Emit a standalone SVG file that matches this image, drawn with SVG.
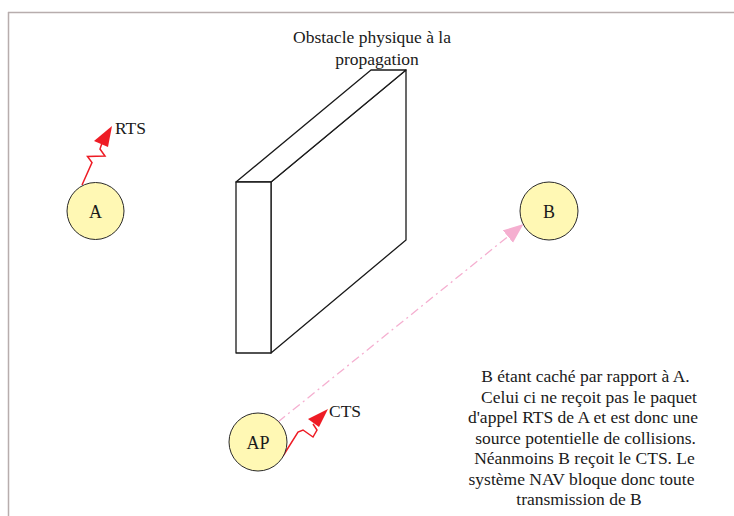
<svg xmlns="http://www.w3.org/2000/svg" width="734" height="516" viewBox="0 0 734 516">
<style>
text{font-family:"Liberation Serif","Times New Roman",serif;fill:#1a1a1a}
.lbl{font-size:17.5px}
.node circle{fill:#fff8b4;stroke:#2a2a2a;stroke-width:1}
.node text{font-size:18px;text-anchor:middle}
.obs{fill:#fff;stroke:#1a1a1a;stroke-width:1.3;stroke-linejoin:round}
.zig{fill:none;stroke:#ee1c25;stroke-width:1.5}
.head{fill:#ee1c25}
</style>
<defs>
<marker id="pinkArrow" markerUnits="userSpaceOnUse" markerWidth="22" markerHeight="18" refX="20" refY="8" orient="auto">
<path d="M0,0 L20,8 L0,16 z" fill="#f5afd0"/>
</marker>
</defs>
<g id="frame" stroke="#b7adad" stroke-width="1.5" fill="none">
<line x1="8" y1="12.5" x2="734" y2="12.5"/>
<line x1="8.5" y1="12" x2="8.5" y2="516"/>
</g>
<g id="obstacle">
<polygon class="obs" points="271,182 406,70 406,240 271,353"/>
<polygon class="obs" points="236,182 371,70 406,70 271,182"/>
<rect class="obs" x="236" y="182" width="35" height="171"/>
<text class="lbl" x="372" y="43" text-anchor="middle">Obstacle physique à la</text>
<text class="lbl" x="377" y="65" text-anchor="middle">propagation</text>
</g>
<g id="connectors">
<line x1="278" y1="422" x2="523.5" y2="224" stroke="#f5afd0" stroke-width="1.3" stroke-dasharray="9,4,2,4" marker-end="url(#pinkArrow)"/>
<g id="rts">
<polyline class="zig" points="82,185 92,162.5 87.5,156.5 105,156 100,149 102,143"/>
<polygon class="head" points="112,126 94,141 108,147"/>
<text class="lbl" x="115" y="134">RTS</text>
</g>
<g id="cts">
<polyline class="zig" points="283,456 298,432 303,430 313,437 317,430 313,424"/>
<polygon class="head" points="328,409 308,419 319,427"/>
<text class="lbl" x="329" y="417">CTS</text>
</g>
</g>
<g id="nodeA" class="node">
<circle cx="95.5" cy="211" r="28.5"/>
<text x="95.5" y="218">A</text>
</g>
<g id="nodeB" class="node">
<circle cx="549" cy="211" r="29"/>
<text x="549" y="218">B</text>
</g>
<g id="nodeAP" class="node">
<circle cx="258" cy="442" r="29"/>
<text x="258" y="449">AP</text>
</g>
<g id="note" class="lbl" text-anchor="middle">
<text x="585.5" y="382">B étant caché par rapport à A.</text>
<text x="589" y="403">Celui ci ne reçoit pas le paquet</text>
<text x="583" y="423">d'appel RTS de A et est donc une</text>
<text x="585.5" y="444">source potentielle de collisions.</text>
<text x="584.5" y="464">Néanmoins B reçoit le CTS. Le</text>
<text x="581.5" y="485">système NAV bloque donc toute</text>
<text x="579" y="505">transmission de B</text>
</g>
</svg>
